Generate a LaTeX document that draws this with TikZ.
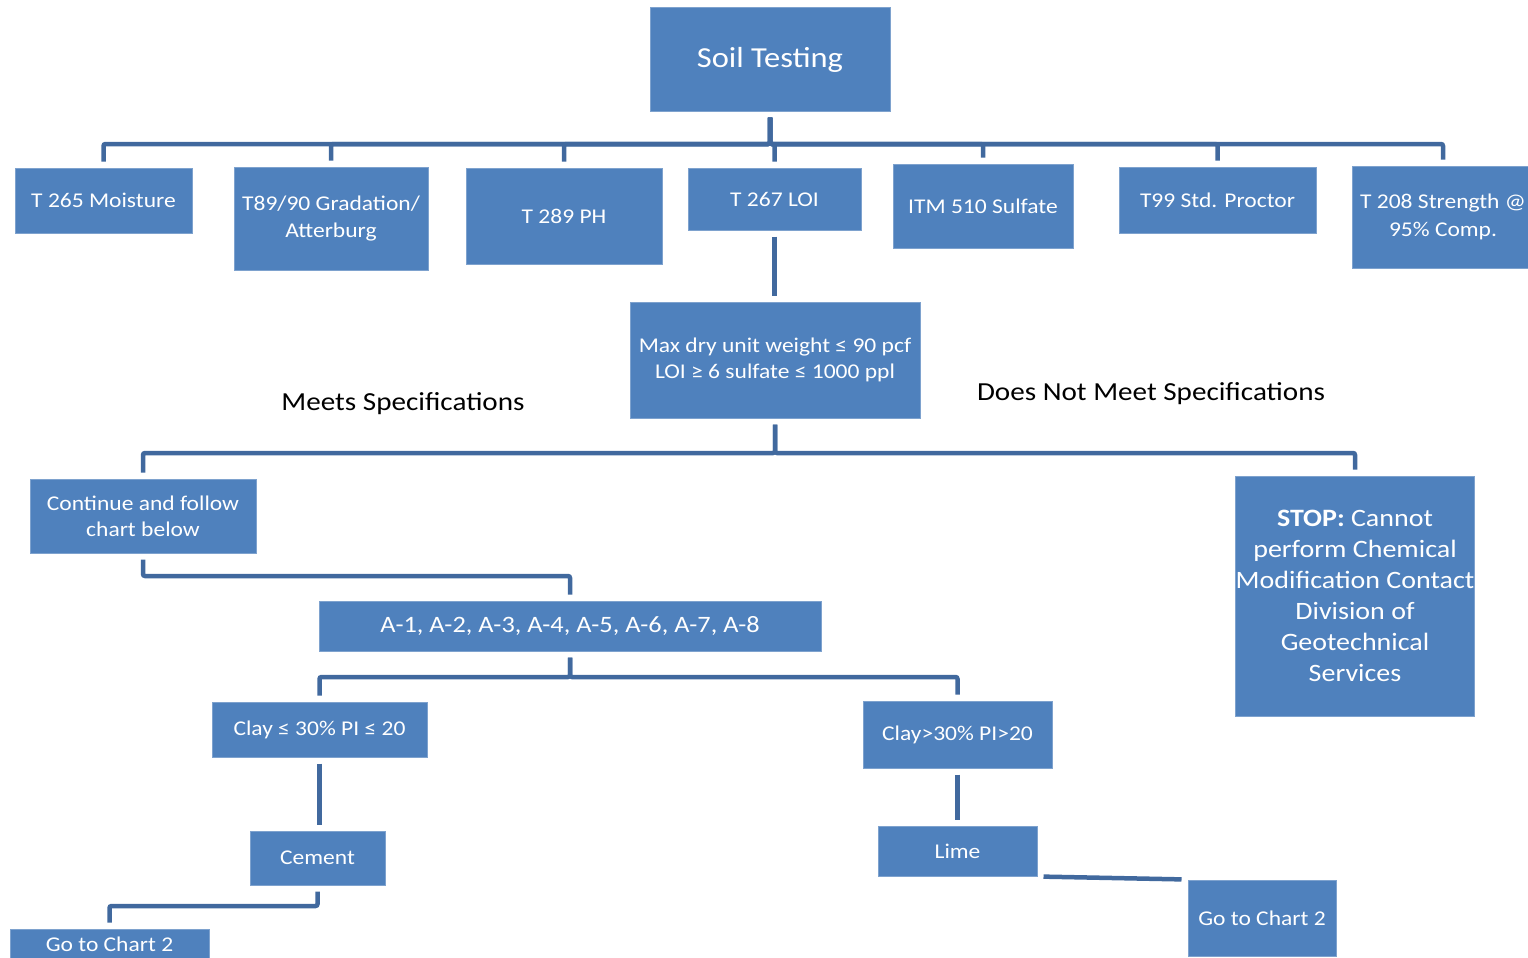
\documentclass[tikz,border=0pt]{standalone}
\usepackage{fontspec}
\setmainfont{Carlito}[FakeStretch=1.12]
\usetikzlibrary{positioning}
\definecolor{boxfill}{HTML}{4F81BD}
\definecolor{boxline}{HTML}{7EA2CE}
\definecolor{linkcol}{HTML}{41699E}

\begin{document}
\begin{tikzpicture}[x=1pt, y=-1pt,
  box/.style={draw=boxline, line width=1pt, fill=boxfill, text=white, align=center,
    inner sep=0pt, font=\fontsize{21}{27}\selectfont},
  conn/.style={draw=linkcol, line width=4.5pt, rounded corners=2pt,
    shorten <=6pt, shorten >=6pt},
  lbl/.style={font=\fontsize{26}{31}\selectfont}]
  \useasboundingbox (0,0) rectangle (1528,958);

  % top level
  \node[box, minimum width=240pt, minimum height=103pt, font=\fontsize{29}{34}\selectfont]
    (soil) at (770,59.5) {Soil Testing};

  \node[box, minimum width=177pt, minimum height=65pt]  (moisture)  at (103.5,200.5) {T 265 Moisture};
  \node[box, minimum width=194pt, minimum height=103pt] (gradation) at (331,218.5) {T89/90 Gradation/\\Atterburg};
  \node[box, minimum width=196pt, minimum height=96pt]  (ph)        at (564,216) {T 289 PH};
  \node[box, minimum width=173pt, minimum height=62pt]  (loi)       at (774.5,199) {T 267 LOI};
  \node[box, minimum width=180pt, minimum height=84pt]  (sulfate)   at (983,206) {ITM 510 Sulfate};
  \node[box, minimum width=197pt, minimum height=66pt]  (proctor)   at (1217.5,200) {T99 Std. Proctor};
  \node[box, minimum width=182pt, minimum height=102pt, font=\fontsize{21}{28}\selectfont]
    (strength) at (1443,217) {T 208 Strength @\\95\% Comp.};

  \coordinate (topbus) at (770,144);
  \foreach \n in {moisture,gradation,ph,loi,sulfate,proctor,strength}
    \draw[conn] (soil.south) -- (topbus) -| (\n.north);

  % specification check
  \node[box, minimum width=290pt, minimum height=116pt, font=\fontsize{21}{26}\selectfont]
    (spec) at (775,360) {Max dry unit weight ≤ 90 pcf\\LOI ≥ 6 sulfate ≤ 1000 ppl};
  \draw[conn] (loi.south) -- (loi.south |- spec.north);

  \node[lbl] (meets) at (403,404) {Meets Specifications};
  \node[lbl] (notmeets) at (1151,394) {Does Not Meet Specifications};

  \node[box, minimum width=226pt, minimum height=74pt, font=\fontsize{21}{26}\selectfont]
    (cont) at (143,516) {Continue and follow\\chart below};
  \node[box, minimum width=238pt, minimum height=240pt, font=\fontsize{25}{31}\selectfont]
    (stop) at (1355,596) {\textbf{STOP:} Cannot\\perform Chemical\\Modification Contact\\Division of\\Geotechnical\\Services};

  \coordinate (midbus) at (775,453);
  \draw[conn] (spec.south) -- (midbus) -| (cont.north);
  \draw[conn] (spec.south) -- (midbus) -| (stop.north);

  % soil classes
  \node[box, minimum width=502pt, minimum height=50pt, font=\fontsize{23.5}{28}\selectfont]
    (aclass) at (570,626) {A-1, A-2, A-3, A-4, A-5, A-6, A-7, A-8};
  \coordinate (abus) at (570,576);
  \draw[conn] (cont.south) |- (abus) -- (aclass.north);

  \node[box, minimum width=215pt, minimum height=55pt] (claylo) at (319.5,729.5) {Clay ≤ 30\% PI ≤ 20};
  \node[box, minimum width=189pt, minimum height=67pt] (clayhi) at (957.5,734.5) {Clay>30\% PI>20};
  \coordinate (claybus) at (570,677);
  \draw[conn] (aclass.south) -- (claybus) -| (claylo.north);
  \draw[conn] (aclass.south) -- (claybus) -| (clayhi.north);

  % treatment
  \node[box, minimum width=135pt, minimum height=54pt] (cement) at (317.5,858) {Cement};
  \node[box, minimum width=159pt, minimum height=50pt] (lime)   at (957.5,851) {Lime};
  \draw[conn] (claylo.south) -- (claylo.south |- cement.north);
  \draw[conn] (clayhi.south) -- (clayhi.south |- lime.north);

  \node[box, minimum width=199pt, minimum height=30pt] (chartl) at (109.5,944) {Go to Chart 2};
  \node[box, minimum width=148pt, minimum height=76pt] (chartr) at (1262,918) {Go to Chart 2};

  \coordinate (cembus) at (317.5,906);
  \draw[conn] (cement.south) -- (cembus) -| (chartl.north);
  \draw[conn] (lime.south east) -- (chartr.north west);
\end{tikzpicture}
\end{document}
